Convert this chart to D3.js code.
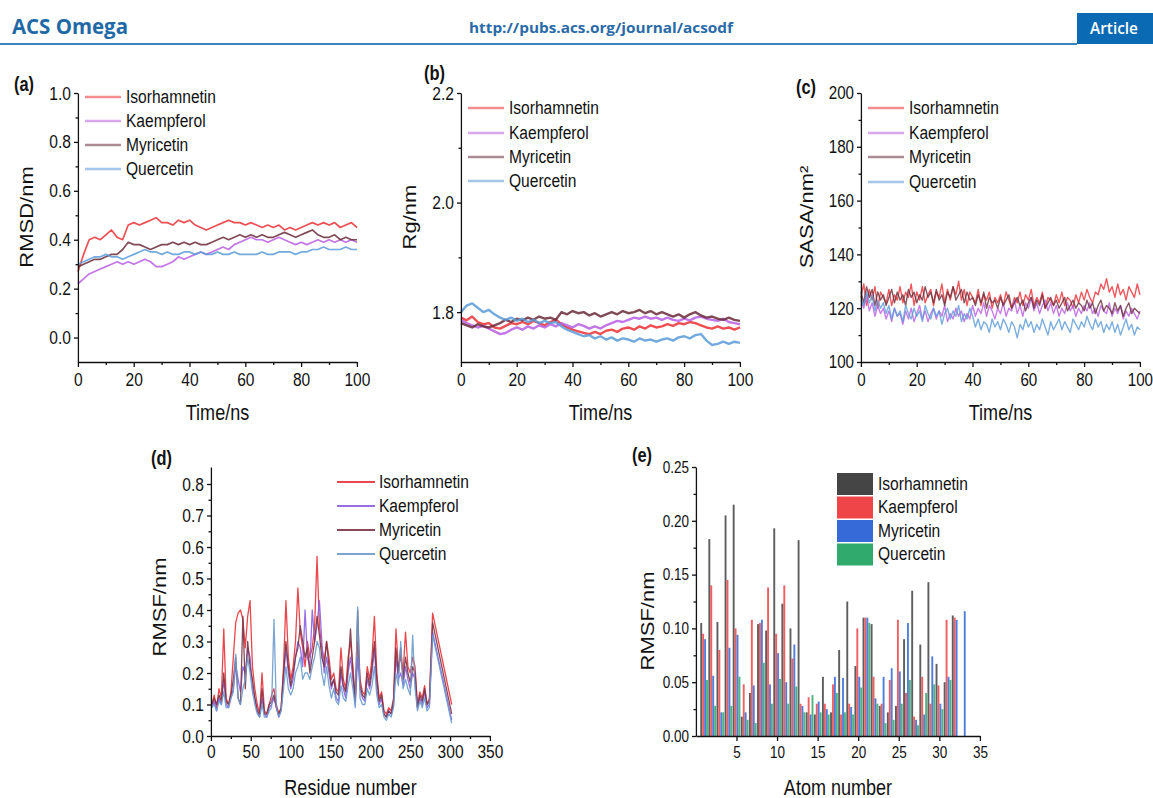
<!DOCTYPE html>
<html>
<head>
<meta charset="utf-8">
<script src="https://cdn.jsdelivr.net/npm/d3@7"></script>
<style>
  html, body { margin: 0; padding: 0; background: #fff; }
  svg { display: block; }
  .axis text { font-family: "Liberation Sans", Arial, sans-serif; fill: #111; }
  .axis path, .axis line { stroke: #111; stroke-width: 1.3px; vector-effect: non-scaling-stroke; }
  .series { fill: none; vector-effect: non-scaling-stroke; stroke-linejoin: round; }
  .lbl { font-family: "Liberation Sans", Arial, sans-serif; fill: #111; }
</style>
</head>
<body>
<svg id="fig"></svg>
<script>
// ---- data ----
const names = ['Isorhamnetin', 'Kaempferol', 'Myricetin', 'Quercetin'];

const time2 = d3.range(0, 101, 2);
const time1 = d3.range(0, 101, 1);

const rmsdIso = [0.27,0.34,0.40,0.41,0.40,0.42,0.44,0.41,0.40,0.46,
  0.47,0.46,0.47,0.48,0.49,0.47,0.47,0.46,0.48,0.47,
  0.48,0.46,0.45,0.44,0.45,0.46,0.47,0.48,0.47,0.47,
  0.46,0.47,0.46,0.45,0.46,0.45,0.46,0.44,0.45,0.44,
  0.45,0.46,0.47,0.46,0.47,0.46,0.47,0.45,0.46,0.47,0.45];
const rmsdKae = [0.22,0.24,0.26,0.27,0.28,0.29,0.30,0.31,0.30,0.31,
  0.30,0.31,0.32,0.31,0.29,0.29,0.30,0.31,0.33,0.32,
  0.33,0.34,0.35,0.34,0.35,0.36,0.37,0.36,0.38,0.39,
  0.40,0.41,0.40,0.40,0.39,0.40,0.41,0.40,0.39,0.38,
  0.39,0.38,0.39,0.40,0.39,0.40,0.39,0.40,0.39,0.40,0.39];
const rmsdMyr = [0.29,0.30,0.31,0.32,0.32,0.33,0.34,0.34,0.36,0.39,
  0.38,0.38,0.37,0.36,0.37,0.38,0.38,0.39,0.38,0.39,
  0.38,0.39,0.38,0.38,0.39,0.40,0.41,0.40,0.41,0.42,
  0.41,0.42,0.41,0.42,0.41,0.41,0.42,0.43,0.42,0.41,
  0.42,0.43,0.44,0.42,0.41,0.41,0.42,0.40,0.41,0.40,0.40];
const rmsdQue = [0.30,0.31,0.32,0.33,0.33,0.34,0.33,0.33,0.32,0.33,
  0.34,0.35,0.36,0.35,0.35,0.34,0.35,0.34,0.34,0.35,
  0.35,0.34,0.35,0.34,0.34,0.35,0.34,0.34,0.35,0.34,
  0.34,0.34,0.34,0.35,0.34,0.34,0.35,0.35,0.35,0.34,
  0.35,0.35,0.36,0.36,0.37,0.36,0.36,0.36,0.37,0.36,0.36];

const rgIso = [1.790,1.785,1.792,1.782,1.778,1.780,1.772,1.770,1.775,1.780,
  1.778,1.782,1.778,1.784,1.780,1.776,1.782,1.786,1.778,1.772,
  1.768,1.765,1.762,1.760,1.764,1.760,1.766,1.768,1.764,1.770,
  1.772,1.768,1.774,1.770,1.776,1.772,1.774,1.778,1.775,1.780,
  1.778,1.782,1.780,1.776,1.772,1.770,1.774,1.770,1.772,1.768,1.772];
const rgKae = [1.785,1.780,1.776,1.772,1.775,1.770,1.765,1.760,1.762,1.768,
  1.772,1.768,1.774,1.770,1.776,1.772,1.778,1.774,1.780,1.776,
  1.772,1.778,1.775,1.770,1.774,1.770,1.776,1.780,1.784,1.782,
  1.786,1.790,1.788,1.792,1.788,1.790,1.786,1.790,1.786,1.784,
  1.788,1.785,1.790,1.792,1.788,1.786,1.784,1.788,1.782,1.780,1.778];
const rgMyr = [1.780,1.776,1.772,1.778,1.774,1.772,1.776,1.780,1.786,1.782,
  1.788,1.785,1.790,1.786,1.792,1.788,1.790,1.786,1.800,1.796,
  1.802,1.798,1.800,1.794,1.798,1.792,1.796,1.800,1.796,1.802,
  1.798,1.800,1.804,1.798,1.802,1.796,1.800,1.796,1.792,1.796,
  1.790,1.796,1.800,1.794,1.790,1.792,1.788,1.786,1.790,1.786,1.784];
const rgQue = [1.800,1.812,1.816,1.808,1.800,1.804,1.796,1.790,1.786,1.790,
  1.784,1.788,1.782,1.786,1.780,1.784,1.780,1.782,1.774,1.768,
  1.764,1.760,1.756,1.758,1.752,1.756,1.750,1.754,1.748,1.752,
  1.750,1.746,1.752,1.748,1.750,1.746,1.750,1.752,1.748,1.754,
  1.756,1.752,1.758,1.760,1.748,1.740,1.742,1.746,1.742,1.746,1.744];

const sasaIso = [124,129,121,127,123,128,120,126,124,122,
  127,121,125,123,128,122,126,124,129,121,
  126,123,128,122,125,127,121,126,124,129,
  122,127,123,128,125,130,123,127,121,126,
  124,122,127,121,125,123,126,120,124,122,
  125,121,126,123,120,124,122,126,121,125,
  123,127,121,124,122,126,120,124,123,121,
  125,122,126,121,124,123,120,125,122,126,
  123,127,124,122,126,125,129,127,131,126,
  128,124,129,125,127,123,128,126,124,129,125];
const sasaKae = [123,120,125,119,122,117,121,118,120,116,
  119,115,120,117,118,114,119,116,120,115,
  118,121,116,119,115,118,120,116,119,117,
  121,115,118,116,120,117,119,115,118,116,
  121,117,120,118,122,117,121,119,116,120,
  118,122,117,120,119,123,118,121,117,122,
  120,124,119,122,118,121,123,119,122,118,
  121,117,120,118,122,119,121,117,120,118,
  121,119,122,118,120,117,121,119,118,122,
  117,120,118,121,116,119,117,120,118,116,119];
const sasaMyr = [126,122,128,124,127,121,126,123,125,121,
  124,127,122,126,123,125,121,127,124,126,
  122,125,123,128,124,126,122,127,123,125,
  121,126,124,128,123,125,127,122,126,123,
  124,121,125,122,126,120,124,122,123,120,
  124,121,123,125,120,122,124,121,123,119,
  122,124,120,123,121,125,120,122,124,121,
  123,120,122,124,119,121,123,120,122,121,
  119,123,120,122,118,121,123,119,121,120,
  118,122,119,121,117,120,122,118,120,119,118];
const sasaQue = [124,121,126,122,125,119,123,120,122,118,
  121,116,120,117,119,115,121,118,116,120,
  117,119,115,121,118,116,120,117,119,114,
  118,120,116,119,117,121,115,118,116,120,
  117,113,116,112,115,114,111,116,113,115,
  112,116,114,111,115,113,109,114,112,116,
  113,115,111,114,112,116,113,110,115,112,
  114,116,112,115,113,111,116,114,112,115,
  113,117,114,112,116,113,115,111,114,112,
  115,111,114,110,113,116,112,114,110,113,112];

const residues = d3.range(1, 275, 3).concat([278, 302]);
const rmsfIso = [0.10,0.13,0.09,0.15,0.12,0.34,0.12,0.10,0.14,0.25,
  0.36,0.39,0.40,0.37,0.28,0.38,0.43,0.22,0.15,0.10,
  0.07,0.20,0.08,0.07,0.10,0.13,0.15,0.10,0.07,0.09,
  0.22,0.43,0.25,0.18,0.22,0.30,0.47,0.33,0.28,0.22,
  0.30,0.25,0.28,0.35,0.57,0.35,0.28,0.24,0.30,0.25,
  0.18,0.20,0.15,0.14,0.28,0.18,0.15,0.25,0.30,0.22,
  0.12,0.30,0.18,0.14,0.13,0.22,0.18,0.25,0.38,0.20,
  0.12,0.14,0.08,0.07,0.09,0.08,0.12,0.34,0.22,0.25,
  0.20,0.33,0.22,0.20,0.25,0.22,0.10,0.14,0.12,0.16,
  0.10,0.12,0.39,0.10];
const rmsfKae = [0.09,0.11,0.08,0.12,0.10,0.18,0.10,0.09,0.12,0.15,
  0.22,0.18,0.14,0.22,0.20,0.28,0.25,0.15,0.12,0.08,
  0.06,0.12,0.07,0.06,0.09,0.10,0.12,0.09,0.06,0.08,
  0.18,0.28,0.20,0.15,0.18,0.25,0.30,0.28,0.22,0.40,
  0.25,0.22,0.40,0.30,0.35,0.43,0.30,0.20,0.25,0.20,
  0.15,0.18,0.12,0.11,0.20,0.15,0.12,0.20,0.25,0.18,
  0.10,0.25,0.15,0.12,0.11,0.18,0.15,0.20,0.28,0.15,
  0.10,0.12,0.07,0.06,0.08,0.07,0.10,0.25,0.18,0.20,
  0.16,0.22,0.18,0.15,0.20,0.18,0.09,0.12,0.10,0.14,
  0.09,0.10,0.33,0.05];
const rmsfMyr = [0.10,0.12,0.10,0.13,0.11,0.20,0.11,0.10,0.13,0.18,
  0.25,0.12,0.10,0.38,0.15,0.30,0.22,0.18,0.12,0.08,
  0.07,0.15,0.07,0.07,0.10,0.11,0.13,0.09,0.07,0.09,
  0.20,0.30,0.22,0.16,0.20,0.25,0.28,0.35,0.30,0.25,
  0.28,0.20,0.25,0.30,0.38,0.32,0.25,0.22,0.30,0.22,
  0.16,0.18,0.14,0.13,0.22,0.16,0.14,0.22,0.34,0.20,
  0.11,0.40,0.16,0.13,0.12,0.20,0.16,0.22,0.30,0.18,
  0.11,0.13,0.07,0.06,0.08,0.07,0.11,0.28,0.20,0.28,
  0.18,0.25,0.20,0.17,0.22,0.20,0.09,0.13,0.11,0.15,
  0.10,0.11,0.36,0.07];
const rmsfQue = [0.09,0.10,0.08,0.11,0.10,0.14,0.09,0.09,0.12,0.14,
  0.26,0.12,0.10,0.15,0.18,0.25,0.20,0.14,0.10,0.07,
  0.06,0.10,0.06,0.06,0.08,0.09,0.37,0.09,0.06,0.08,
  0.15,0.22,0.15,0.13,0.15,0.20,0.22,0.25,0.18,0.20,
  0.20,0.18,0.22,0.25,0.30,0.28,0.20,0.16,0.22,0.16,
  0.12,0.15,0.11,0.10,0.16,0.12,0.11,0.16,0.20,0.15,
  0.09,0.41,0.12,0.10,0.10,0.15,0.13,0.16,0.22,0.13,
  0.09,0.10,0.06,0.05,0.07,0.06,0.09,0.20,0.16,0.30,
  0.15,0.18,0.15,0.13,0.32,0.15,0.08,0.11,0.09,0.12,
  0.08,0.09,0.32,0.04];

const atoms = d3.range(1, 34);
const atomIso = [0.105,0.183,0.106,0.205,0.215,0.018,0.040,0.104,0.098,0.193,0.123,0.100,0.182,0.022,0.020,0.055,0.022,0.080,0.125,0.065,0.110,0.104,0.028,0.022,0.028,0.090,0.135,0.085,0.143,0.067,0.050,0.112,0];
const atomKae = [0.095,0.140,0.080,0.145,0.100,0.048,0.108,0.105,0.138,0.095,0.140,0.072,0.030,0.036,0.030,0.030,0.048,0.020,0.030,0.100,0.110,0.055,0.030,0.052,0.108,0.040,0.018,0.055,0.030,0.047,0.108,0.110,0];
const atomMyr = [0.090,0.056,0.022,0.082,0.094,0.022,0.047,0.108,0.048,0.077,0.050,0.085,0.028,0.020,0.032,0.025,0.055,0.054,0.027,0.055,0.110,0.035,0.055,0.063,0.060,0.105,0.015,0.020,0.074,0.030,0.055,0.108,0.116];
const atomQue = [0.052,0.028,0.022,0.028,0.055,0.015,0.012,0.068,0.030,0.053,0.030,0.046,0.022,0.038,0.022,0.020,0.040,0.022,0.020,0.045,0.105,0.030,0.012,0.015,0.030,0.052,0.010,0.040,0.048,0.025,0.052,0,0];

const timeTicks = [0, 20, 40, 60, 80, 100];
const timeMinor = [10, 30, 50, 70, 90];
const rmsdTicks = [0.0, 0.2, 0.4, 0.6, 0.8, 1.0];
const rmsdMinor = [0.1, 0.3, 0.5, 0.7, 0.9];
const rgTicks = [1.8, 2.0, 2.2];
const rgMinor = [1.9, 2.1];
const sasaTicks = [100, 120, 140, 160, 180, 200];
const sasaMinor = [110, 130, 150, 170, 190];
const resTicks = [0, 50, 100, 150, 200, 250, 300, 350];
const resMinor = [25, 75, 125, 175, 225, 275, 325];
const rmsfTicks = [0.0, 0.1, 0.2, 0.3, 0.4, 0.5, 0.6, 0.7, 0.8];
const rmsfMinor = [0.05, 0.15, 0.25, 0.35, 0.45, 0.55, 0.65, 0.75];
const atomTicks = [5, 10, 15, 20, 25, 30, 35];
const atomRmsfTicks = [0.00, 0.05, 0.10, 0.15, 0.20, 0.25];
const atomRmsfMinor = [0.025, 0.075, 0.125, 0.175, 0.225];

// ---- setup ----
const SX = 0.82; // the figure is slightly squeezed horizontally
const W = 1153, H = 798;
const X = (v) => v / SX;
const FONT = '"Liberation Sans", Arial, sans-serif';

const svg = d3.select('#fig')
  .attr('width', W).attr('height', H)
  .attr('viewBox', `0 0 ${X(W)} ${H}`)
  .attr('preserveAspectRatio', 'none');

// header
svg.append('text').attr('x', X(12)).attr('y', 34)
  .attr('font-family', '"Open Sans", sans-serif').attr('font-weight', 700).attr('font-size', 21)
  .attr('fill', '#1f6aa6').attr('textLength', X(116)).attr('lengthAdjust', 'spacingAndGlyphs')
  .text('ACS Omega');
svg.append('text').attr('x', X(469)).attr('y', 33)
  .attr('font-family', '"Open Sans", sans-serif').attr('font-weight', 700).attr('font-size', 15)
  .attr('fill', '#2a6aa8').attr('textLength', X(264)).attr('lengthAdjust', 'spacingAndGlyphs')
  .text('http://pubs.acs.org/journal/acsodf');
svg.append('line').attr('x1', 0).attr('x2', X(1077)).attr('y1', 44).attr('y2', 44)
  .attr('stroke', '#3d84bf').attr('stroke-width', 2).style('vector-effect', 'non-scaling-stroke');
svg.append('rect').attr('x', X(1077)).attr('y', 13).attr('width', X(76)).attr('height', 31)
  .attr('fill', '#0a6ab3');
svg.append('text').attr('x', X(1114)).attr('y', 34).attr('text-anchor', 'middle')
  .attr('font-family', '"Open Sans", sans-serif').attr('font-weight', 600).attr('font-size', 16)
  .attr('fill', '#fff').attr('textLength', X(48)).attr('lengthAdjust', 'spacingAndGlyphs')
  .text('Article');

function drawAxes(g, x, y, cfg) {
  const x0 = x.range()[0];
  const yb = y.range()[0];
  g.append('g').attr('class', 'axis').attr('transform', `translate(${x0},0)`)
    .call(d3.axisLeft(y).tickValues(cfg.yTicks).tickFormat(d3.format(cfg.yFmt))
      .tickSize(X(4)).tickSizeOuter(0).tickPadding(X(3)))
    .attr('font-size', cfg.tickFont).attr('font-family', FONT);
  if (cfg.yMinor) {
    g.append('g').attr('class', 'axis').attr('transform', `translate(${x0},0)`)
      .call(d3.axisLeft(y).tickValues(cfg.yMinor).tickFormat(() => '').tickSize(X(2.5)))
      .call((a) => a.select('.domain').remove());
  }
  g.append('g').attr('class', 'axis').attr('transform', `translate(0,${yb})`)
    .call(d3.axisBottom(x).tickValues(cfg.xTicks).tickFormat(d3.format('d'))
      .tickSize(5).tickSizeOuter(0).tickPadding(cfg.xPad))
    .attr('font-size', cfg.tickFont).attr('font-family', FONT);
  if (cfg.xMinor) {
    g.append('g').attr('class', 'axis').attr('transform', `translate(0,${yb})`)
      .call(d3.axisBottom(x).tickValues(cfg.xMinor).tickFormat(() => '').tickSize(3))
      .call((a) => a.select('.domain').remove());
  }
  // titles
  g.append('text').attr('class', 'lbl')
    .attr('x', (x.range()[0] + x.range()[1]) / 2).attr('y', cfg.xTitleY)
    .attr('text-anchor', 'middle').attr('font-size', 22).text(cfg.xTitle);
  g.append('text').attr('class', 'lbl')
    .attr('transform', `translate(${X(cfg.yTitlePos[0])},${cfg.yTitlePos[1]}) rotate(-90)`)
    .attr('text-anchor', 'middle').attr('dominant-baseline', 'central')
    .attr('font-size', 22).text(cfg.yTitle);
  g.append('text').attr('class', 'lbl')
    .attr('x', X(cfg.labelPos[0])).attr('y', cfg.labelPos[1])
    .attr('font-size', 20).attr('font-weight', 700).text(cfg.label);
}

function drawLinePanel(cfg) {
  const g = svg.append('g');
  const x = d3.scaleLinear().domain(cfg.xDomain).range(cfg.xRange.map(X));
  const y = d3.scaleLinear().domain(cfg.yDomain).range(cfg.yRange);
  const line = d3.line().x((d) => x(d[0])).y((d) => y(d[1]));

  cfg.series.forEach((s) => {
    g.append('path').attr('class', 'series')
      .attr('d', line(cfg.xValues.map((t, i) => [t, s.values[i]])))
      .attr('stroke', s.color)
      .attr('stroke-width', cfg.lineWidth)
      .attr('stroke-opacity', cfg.lineOpacity);
  });

  drawAxes(g, x, y, cfg);

  const lg = cfg.legend;
  cfg.series.forEach((s, i) => {
    const ry = lg.rows[i];
    g.append('line').attr('x1', X(lg.x0)).attr('x2', X(lg.x1)).attr('y1', ry).attr('y2', ry)
      .attr('stroke', s.color).attr('stroke-width', lg.width).attr('stroke-opacity', lg.opacity)
      .style('vector-effect', 'non-scaling-stroke');
    g.append('text').attr('class', 'lbl').attr('x', X(lg.tx)).attr('y', ry + 6.5)
      .attr('font-size', 19).text(s.name);
  });
}

const mdColors = ['#ea3035', '#b85ee0', '#6a2c3a', '#5b9bd8'];
const mdLegend = (x0, rows) => ({ x0, x1: x0 + 36, tx: x0 + 41, rows, width: 2.4, opacity: 0.55 });

drawLinePanel({
  label: '(a)', labelPos: [14, 91],
  xRange: [78, 357], yRange: [362, 93], xDomain: [0, 100], yDomain: [-0.1, 1.0],
  xTicks: timeTicks, xMinor: timeMinor, yTicks: rmsdTicks, yMinor: rmsdMinor, yFmt: '.1f',
  tickFont: 19, xPad: 6, xTitle: 'Time/ns', xTitleY: 420, yTitle: 'RMSD/nm', yTitlePos: [27, 217],
  xValues: time2, lineWidth: 1.7, lineOpacity: 0.85,
  series: [rmsdIso, rmsdKae, rmsdMyr, rmsdQue].map((v, i) => ({ name: names[i], values: v, color: mdColors[i] })),
  legend: mdLegend(85, [97, 121, 145, 169]),
});

drawLinePanel({
  label: '(b)', labelPos: [424, 80],
  xRange: [461, 740], yRange: [362, 93], xDomain: [0, 100], yDomain: [1.709, 2.2],
  xTicks: timeTicks, xMinor: timeMinor, yTicks: rgTicks, yMinor: rgMinor, yFmt: '.1f',
  tickFont: 19, xPad: 6, xTitle: 'Time/ns', xTitleY: 420, yTitle: 'Rg/nm', yTitlePos: [410, 217],
  xValues: time2, lineWidth: 2.4, lineOpacity: 0.85,
  series: [rgIso, rgKae, rgMyr, rgQue].map((v, i) => ({ name: names[i], values: v, color: mdColors[i] })),
  legend: mdLegend(468, [108, 133, 157, 181]),
});

drawLinePanel({
  label: '(c)', labelPos: [796, 94],
  xRange: [861, 1140], yRange: [362, 93], xDomain: [0, 100], yDomain: [100, 200],
  xTicks: timeTicks, xMinor: timeMinor, yTicks: sasaTicks, yMinor: sasaMinor, yFmt: 'd',
  tickFont: 18.5, xPad: 6, xTitle: 'Time/ns', xTitleY: 420, yTitle: 'SASA/nm²', yTitlePos: [807, 217],
  xValues: time1, lineWidth: 1.4, lineOpacity: 0.8,
  series: [sasaIso, sasaKae, sasaMyr, sasaQue].map((v, i) => ({ name: names[i], values: v, color: mdColors[i] })),
  legend: mdLegend(868, [108, 133, 157, 182]),
});

const rmsfColors = ['#e8333a', '#8c5ee0', '#7a3545', '#6b9bcc'];
drawLinePanel({
  label: '(d)', labelPos: [151, 465],
  xRange: [211, 490], yRange: [736, 467], xDomain: [0, 350], yDomain: [0, 0.854],
  xTicks: resTicks, xMinor: resMinor, yTicks: rmsfTicks, yMinor: rmsfMinor, yFmt: '.1f',
  tickFont: 19, xPad: 4, xTitle: 'Residue number', xTitleY: 795, yTitle: 'RMSF/nm', yTitlePos: [160, 607],
  xValues: residues, lineWidth: 1.3, lineOpacity: 0.9,
  series: [rmsfIso, rmsfKae, rmsfMyr, rmsfQue].map((v, i) => ({ name: names[i], values: v, color: rmsfColors[i] })),
  legend: { x0: 337, x1: 375, tx: 379, rows: [482, 506, 530, 554], width: 2, opacity: 0.9 },
});

// ---- panel (e): grouped bars ----
(function drawBars() {
  const g = svg.append('g');
  const x = d3.scaleLinear().domain([0, 35]).range([X(696), X(980)]);
  const y = d3.scaleLinear().domain([0, 0.25]).range([736, 467]);
  const barColors = ['#3b3b3b', '#ee3a3e', '#2b62d6', '#26a566'];
  const series = [atomIso, atomKae, atomMyr, atomQue];
  const groupW = (x(1) - x(0)) * 0.96;
  const inner = d3.scaleBand().domain(names).range([-groupW / 2, groupW / 2]).padding(0.02);

  series.forEach((vals, si) => {
    g.append('g').selectAll('rect').data(atoms.map((a, i) => ({ a, v: vals[i] })))
      .join('rect')
      .attr('x', (d) => x(d.a) + inner(names[si]))
      .attr('width', inner.bandwidth())
      .attr('y', (d) => y(d.v))
      .attr('height', (d) => y(0) - y(d.v))
      .attr('fill', barColors[si])
      .attr('fill-opacity', 0.82);
  });

  drawAxes(g, x, y, {
    label: '(e)', labelPos: [632, 462],
    xTicks: atomTicks, yTicks: atomRmsfTicks, yMinor: atomRmsfMinor, yFmt: '.2f',
    tickFont: 16.5, xPad: 5, xTitle: 'Atom number', xTitleY: 795, yTitle: 'RMSF/nm', yTitlePos: [648, 621],
  });

  names.forEach((n, i) => {
    const top = 473 + i * 23.5;
    g.append('rect').attr('x', X(837)).attr('y', top).attr('width', X(36)).attr('height', 22)
      .attr('fill', barColors[i]).attr('fill-opacity', 0.95);
    g.append('text').attr('class', 'lbl').attr('x', X(878)).attr('y', top + 17)
      .attr('font-size', 19).text(n);
  });
})();
</script>
</body>
</html>
